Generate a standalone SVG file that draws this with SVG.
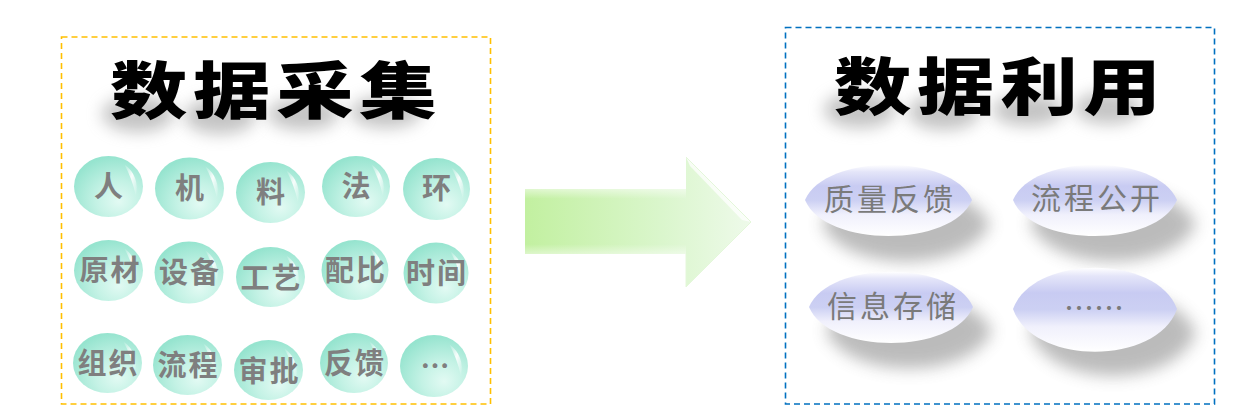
<svg xmlns="http://www.w3.org/2000/svg" width="1241" height="412" viewBox="0 0 1241 412">
  <style>
    .title { font-family: "Noto Sans CJK SC", "Noto Sans", sans-serif; font-weight: 900; font-size: 62px; letter-spacing: 4.5px; fill: #000; }
    .tsh { fill: #8a8a8a; opacity: 0.5; filter: url(#blur8); }
    .btxt { font-family: "Noto Sans CJK SC", "Noto Sans", sans-serif; font-weight: bold; font-size: 29px; fill: #7f7f7f; text-anchor: middle; letter-spacing: 2px; }
    .ltxt { font-family: "Noto Sans CJK SC", "Noto Sans", sans-serif; font-weight: 400; font-size: 30px; fill: #7a7a7a; text-anchor: middle; letter-spacing: 3px; }
    .bubble { fill: url(#bubbleGrad); }
    .hl { fill: url(#hlGrad); }
    .leaf { fill: url(#leafGrad); }
    .leafShadow { fill: #6a6a6a; opacity: 0.45; filter: url(#blur8); }
  </style>
  <defs>
    <filter id="blur8" x="-40%" y="-80%" width="180%" height="260%">
      <feGaussianBlur stdDeviation="8"/>
    </filter>
    <radialGradient id="bubbleGrad" cx="0.62" cy="0.7" r="0.7" fx="0.65" fy="0.75">
      <stop offset="0" stop-color="#e2faf3"/>
      <stop offset="0.45" stop-color="#c4f2e5"/>
      <stop offset="1" stop-color="#96e4cf"/>
    </radialGradient>
    <linearGradient id="hlGrad" x1="0" y1="0" x2="1" y2="1">
      <stop offset="0" stop-color="#ffffff" stop-opacity="0"/>
      <stop offset="0.5" stop-color="#ffffff" stop-opacity="0.9"/>
      <stop offset="1" stop-color="#ffffff" stop-opacity="0"/>
    </linearGradient>
    <linearGradient id="leafGrad" x1="0" y1="0" x2="0" y2="1">
      <stop offset="0" stop-color="#ffffff"/>
      <stop offset="0.1" stop-color="#e4e5f9"/>
      <stop offset="0.3" stop-color="#c8cbf2"/>
      <stop offset="0.5" stop-color="#ccd0f3"/>
      <stop offset="0.7" stop-color="#f0f0fc"/>
      <stop offset="1" stop-color="#ffffff"/>
    </linearGradient>
    <linearGradient id="arrowGrad" x1="0" y1="0" x2="1" y2="0">
      <stop offset="0" stop-color="#c2f0a0"/>
      <stop offset="0.6" stop-color="#daf6cc"/>
      <stop offset="1" stop-color="#eefaea"/>
    </linearGradient>
    <linearGradient id="arrowTop" x1="0" y1="0" x2="0" y2="1">
      <stop offset="0" stop-color="#ffffff" stop-opacity="0.5"/>
      <stop offset="0.15" stop-color="#ffffff" stop-opacity="0"/>
      <stop offset="0.85" stop-color="#ffffff" stop-opacity="0"/>
      <stop offset="1" stop-color="#ffffff" stop-opacity="0.45"/>
    </linearGradient>
  </defs>

  <rect width="1241" height="412" fill="#ffffff"/>

  <!-- Left panel -->
  <g id="panel-collect">
    <rect x="61.5" y="37" width="429" height="367" fill="none" stroke="#ffc000" stroke-width="1.6" stroke-dasharray="6 4"/>
    <g id="title-collect">
      <ellipse class="tsh" cx="138" cy="114" rx="36" ry="18"/>
      <ellipse class="tsh" cx="220" cy="116" rx="36" ry="18"/>
      <ellipse class="tsh" cx="303" cy="114" rx="36" ry="16"/>
      <ellipse class="tsh" cx="386" cy="112" rx="36" ry="16"/>
      <text class="title" transform="translate(110,114) scale(1.25,1)">数据采集</text>
    </g>
  </g>

  <!-- Left bubbles -->
  <g id="bubble-ren"><ellipse class="bubble" cx="108.5" cy="186.5" rx="34.5" ry="30.5"/><path class="hl" d="M124,164 Q140,176 136,196 Q132,178 124,164 Z"/><text class="btxt" x="109.5" y="197">人</text></g>
  <g id="bubble-ji"><ellipse class="bubble" cx="189.5" cy="188.5" rx="34.5" ry="31"/><path class="hl" d="M205,166 Q221,178 217,198 Q213,180 205,166 Z"/><text class="btxt" x="190.5" y="199">机</text></g>
  <g id="bubble-liao"><ellipse class="bubble" cx="270.5" cy="192.5" rx="34.5" ry="30.5"/><path class="hl" d="M286,170 Q302,182 298,202 Q294,184 286,170 Z"/><text class="btxt" x="271.5" y="203">料</text></g>
  <g id="bubble-fa"><ellipse class="bubble" cx="356" cy="186.5" rx="34" ry="30.5"/><path class="hl" d="M371,164 Q387,176 383,196 Q379,178 371,164 Z"/><text class="btxt" x="357" y="197">法</text></g>
  <g id="bubble-huan"><ellipse class="bubble" cx="436.5" cy="189" rx="33.5" ry="31"/><path class="hl" d="M451,167 Q467,179 463,199 Q459,181 451,167 Z"/><text class="btxt" x="437.5" y="199">环</text></g>

  <g id="bubble-yuancai"><ellipse class="bubble" cx="108.5" cy="270.5" rx="34.5" ry="30.5"/><path class="hl" d="M124,248 Q140,260 136,280 Q132,262 124,248 Z"/><text class="btxt" x="110.5" y="281">原材</text></g>
  <g id="bubble-shebei"><ellipse class="bubble" cx="189" cy="272.5" rx="34.5" ry="31"/><path class="hl" d="M205,250 Q221,262 217,282 Q213,264 205,250 Z"/><text class="btxt" x="190" y="283">设备</text></g>
  <g id="bubble-gongyi"><ellipse class="bubble" cx="270.5" cy="277" rx="34.5" ry="30"/><path class="hl" d="M286,255 Q302,267 298,287 Q294,269 286,255 Z"/><text class="btxt" x="271.5" y="289">工艺</text></g>
  <g id="bubble-peibi"><ellipse class="bubble" cx="355" cy="270" rx="33.5" ry="30"/><path class="hl" d="M370,248 Q386,260 382,280 Q378,262 370,248 Z"/><text class="btxt" x="356" y="281">配比</text></g>
  <g id="bubble-shijian"><ellipse class="bubble" cx="436" cy="273" rx="32.5" ry="30.5"/><path class="hl" d="M450,251 Q466,263 462,283 Q458,265 450,251 Z"/><text class="btxt" x="437" y="284">时间</text></g>

  <g id="bubble-zuzhi"><ellipse class="bubble" cx="107.5" cy="363" rx="34.5" ry="30"/><path class="hl" d="M123,341 Q139,353 135,373 Q131,355 123,341 Z"/><text class="btxt" x="108.5" y="374">组织</text></g>
  <g id="bubble-liucheng"><ellipse class="bubble" cx="187.5" cy="365" rx="34.5" ry="30"/><path class="hl" d="M203,343 Q219,355 215,375 Q211,357 203,343 Z"/><text class="btxt" x="188.5" y="376">流程</text></g>
  <g id="bubble-shenpi"><ellipse class="bubble" cx="268.5" cy="370" rx="34.5" ry="30"/><path class="hl" d="M284,348 Q300,360 296,380 Q292,362 284,348 Z"/><text class="btxt" x="269.5" y="382">审批</text></g>
  <g id="bubble-fankui"><ellipse class="bubble" cx="354" cy="363" rx="34" ry="30"/><path class="hl" d="M369,341 Q385,353 381,373 Q377,355 369,341 Z"/><text class="btxt" x="355" y="374">反馈</text></g>
  <g id="bubble-more"><ellipse class="bubble" cx="434" cy="366" rx="34" ry="31"/><path class="hl" d="M449,344 Q465,356 461,376 Q457,358 449,344 Z"/><text class="btxt" x="435" y="377" style="letter-spacing:0">…</text></g>

  <!-- Connector: block arrow -->
  <g id="connectors">
    <path d="M525,189 L686,189 L686,157 L751,222 L686,287 L686,254 L525,254 Z" fill="url(#arrowGrad)"/>
    <path d="M525,189 L686,189 L686,254 L525,254 Z" fill="url(#arrowTop)"/>
    <path d="M686,157 L751,222 L742,220 L690,166 Z" fill="#ffffff" opacity="0.75"/>
    <path d="M686,157 L751,222 L686,287 L686,254" fill="none" stroke="#e4f7da" stroke-width="1"/>
  </g>

  <!-- Right panel -->
  <g id="panel-use">
    <rect x="785.5" y="27.5" width="429" height="376.5" fill="none" stroke="#0070c0" stroke-width="1.6" stroke-dasharray="6 4"/>
    <g id="title-use">
      <ellipse class="tsh" cx="860" cy="110" rx="36" ry="18"/>
      <ellipse class="tsh" cx="944" cy="112" rx="36" ry="18"/>
      <ellipse class="tsh" cx="1028" cy="110" rx="36" ry="16"/>
      <ellipse class="tsh" cx="1108" cy="108" rx="34" ry="16"/>
      <text class="title" transform="translate(834,110) scale(1.25,1)">数据利用</text>
    </g>
  </g>

  <g id="leaf-zhiliang">
    <path class="leafShadow" d="M822,224 C844,176 968,176 990,224 C968,274 844,274 822,224 Z"/>
    <path class="leaf" d="M805,200 C825,153 952,153 972,200 C952,248 825,248 805,200 Z"/>
    <text class="ltxt" x="890" y="210">质量反馈</text>
  </g>
  <g id="leaf-liucheng">
    <path class="leafShadow" d="M1030,224 C1052,176 1174,176 1196,224 C1174,274 1052,274 1030,224 Z"/>
    <path class="leaf" d="M1013,200 C1033,153 1157,153 1177,200 C1157,248 1033,248 1013,200 Z"/>
    <text class="ltxt" x="1097" y="209">流程公开</text>
  </g>
  <g id="leaf-xinxi">
    <path class="leafShadow" d="M826,331 C848,283 970,283 992,331 C970,381 848,381 826,331 Z"/>
    <path class="leaf" d="M809,307 C829,260 953,260 973,307 C953,355 829,355 809,307 Z"/>
    <text class="ltxt" x="893" y="317">信息存储</text>
  </g>
  <g id="leaf-more">
    <path class="leafShadow" d="M1030,333 C1052,278 1174,278 1196,333 C1174,390 1052,390 1030,333 Z"/>
    <path class="leaf" d="M1013,309 C1033,254 1157,254 1177,309 C1157,366 1033,366 1013,309 Z"/>
    <text class="ltxt" x="1094" y="319" style="letter-spacing:0">……</text>
  </g>
</svg>
